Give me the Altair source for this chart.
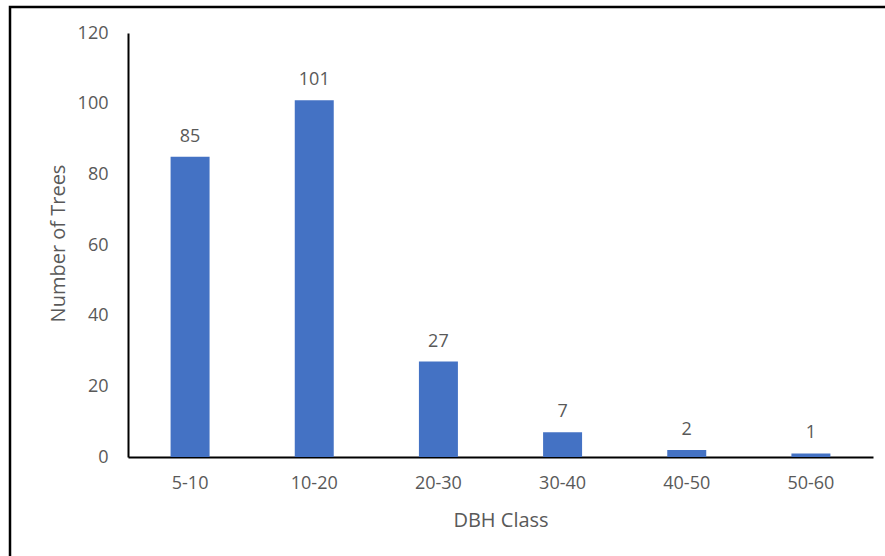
import altair as alt
import pandas as pd

categories = ["5-10", "10-20", "20-30", "30-40", "40-50", "50-60"]
counts = [85, 101, 27, 7, 2, 1]

df = pd.DataFrame({"DBH Class": categories, "Number of Trees": counts})

FONT = "Open Sans"
GRAY = "#595959"

x_enc = alt.X(
    "DBH Class:N",
    sort=categories,
    scale=alt.Scale(paddingInner=0.686, paddingOuter=0.343),
    axis=alt.Axis(
        title="DBH Class",
        labelAngle=0,
        labelPadding=17,
        ticks=False,
        domainColor="black",
        domainWidth=2,
        titleY=69,
        titleBaseline="alphabetic",
    ),
)
y_enc = alt.Y(
    "Number of Trees:Q",
    scale=alt.Scale(domain=[0, 120], nice=False),
    axis=alt.Axis(
        title="Number of Trees",
        values=[0, 20, 40, 60, 80, 100, 120],
        grid=False,
        ticks=False,
        labelPadding=20,
        domainColor="black",
        domainWidth=2,
        titleX=-60,
        titleY=210,
        titleAngle=-90,
        titleAlign="center",
        titleBaseline="bottom",
    ),
)

bars = alt.Chart(df).mark_bar(color="#4472C4").encode(x=x_enc, y=y_enc)

labels = alt.Chart(df).mark_text(
    baseline="alphabetic", dy=-15, font=FONT, fontSize=18, color=GRAY
).encode(x=alt.X("DBH Class:N", sort=categories), y="Number of Trees:Q", text="Number of Trees:Q")

frame = alt.Chart(pd.DataFrame({"a": [0]})).mark_rect(
    fillOpacity=0, stroke="black", strokeWidth=2.5
).encode(
    x=alt.value(-118), x2=alt.value(777), y=alt.value(-26), y2=alt.value(543)
)

chart = (
    alt.layer(frame, bars, labels)
    .properties(
        width=745,
        height=424,
        autosize="none",
        padding={"left": 128, "top": 33, "right": 12, "bottom": 99},
        background="white",
    )
    .configure_axis(
        labelFont=FONT,
        labelFontSize=18,
        labelColor=GRAY,
        titleFont=FONT,
        titleFontSize=20,
        titleColor=GRAY,
        titleFontWeight="normal",
    )
    .configure_view(strokeWidth=0)
)

chart.save("out.html", embed_options={"renderer": "svg", "actions": False})
